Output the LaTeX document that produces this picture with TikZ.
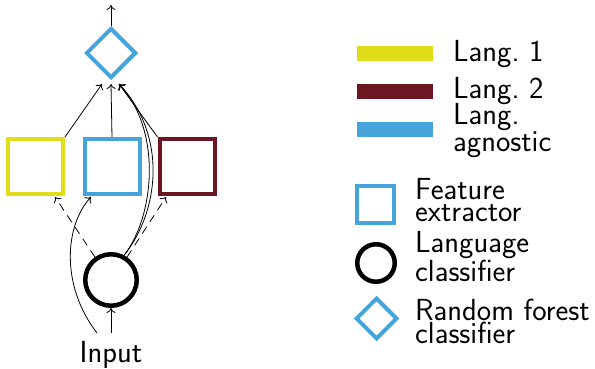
\documentclass[tikz,border=0pt]{standalone}
\usetikzlibrary{shapes.geometric,arrows.meta}
\definecolor{cyel}{RGB}{225,222,25}
\definecolor{cred}{RGB}{108,22,33}
\definecolor{cblu}{RGB}{69,165,218}
\begin{document}
\begin{tikzpicture}[x=1pt,y=-1pt,
  fbox/.style={draw,line width=4pt,minimum size=55pt,inner sep=0pt},
  lcirc/.style={draw,circle,line width=4.5pt,minimum size=51.5pt,inner sep=0pt},
  rdia/.style={draw=cblu,diamond,aspect=1,line width=4pt,minimum size=50pt,inner sep=0pt},
  bar/.style={rectangle,minimum width=76pt,minimum height=15pt,inner sep=0pt},
  lbl/.style={anchor=base west,inner sep=0pt,align=left,font=\sffamily\fontsize{30.5}{21.5}\selectfont},
  conn/.style={line width=0.8pt,-{To[length=5pt,width=9pt]}},
  dconn/.style={line width=0.8pt,-{To[length=5pt,width=9pt]},dash pattern=on 8pt off 6pt}]
\useasboundingbox (0,0) rectangle (595,369);
% main diagram
\node[rdia] (dia) at (111,53) {};
\node[fbox,draw=cyel] (yel) at (35.5,166.5) {};
\node[fbox,draw=cblu] (blu) at (112,166.5) {};
\node[fbox,draw=cred] (red) at (187,166.5) {};
\node[lcirc] (lc) at (111,280) {};
\node[anchor=base,inner sep=0pt,font=\sffamily\fontsize{30.5}{30}\selectfont] (inp) at (111,362) {Input};
\coordinate (out) at (111,5);
\coordinate (dl) at (102,84);
\coordinate (dc) at (111,84);
\coordinate (dr) at (119,84);
\coordinate (inl) at (97,333);
\coordinate (inc) at (111,333);
\coordinate (yb) at (55,197);
\coordinate (bb) at (91,197);
\coordinate (rb) at (166,197);
\draw[conn] (dia.north) -- (out);
\draw[conn] (yel.north east) -- (dl);
\draw[conn] (blu.north) -- (dc);
\draw[conn] (red.north west) -- (dr);
\draw[conn] (inc) -- (lc.south);
\draw[conn] (inl) .. controls (60,285) and (65,225) .. (bb);
\draw[dconn] (lc.125) -- (yb);
\draw[dconn] (lc.55) -- (rb);
\draw[conn] (lc.62) .. controls (155,215) and (162,130) .. (dr);
\draw[conn] (lc.62) .. controls (160,210) and (167,135) .. (dr);
% legend
\node[bar,fill=cyel] (b1) at (395,53.5) {};
\node[bar,fill=cred] (b2) at (395,91.5) {};
\node[bar,fill=cblu] (b3) at (395,129.5) {};
\node[lbl] (t1) at (453,62) {Lang.\ 1};
\node[lbl] (t2) at (453,99) {Lang.\ 2};
\node[lbl] (t3) at (453,151) {Lang.\\agnostic};
\node[draw=cblu,line width=4pt,minimum size=37pt,inner sep=0pt] (ls) at (375.5,204.5) {};
\node[draw,circle,line width=4.5pt,minimum size=37.5pt,inner sep=0pt] (lcl) at (376,263) {};
\node[draw=cblu,diamond,aspect=1,line width=4pt,minimum size=41.5pt,inner sep=0pt] (ld) at (376.5,318.5) {};
\node[lbl] (t4) at (415,221) {Feature\\extractor};
\node[lbl] (t5) at (415,281) {Language\\classifier};
\node[lbl] (t6) at (415,343) {Random forest\\classifier};
\end{tikzpicture}
\end{document}
